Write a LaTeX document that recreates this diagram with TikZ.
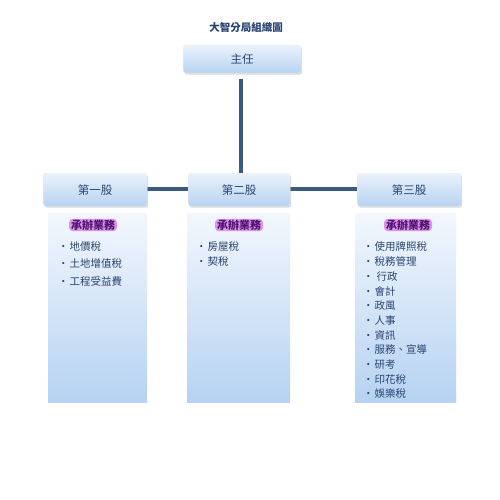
\documentclass[tikz,border=0pt]{standalone}
\usepackage{fontspec}
\newfontfamily\cjk{Noto Sans CJK TC}
\usetikzlibrary{shadows}
\definecolor{txt}{HTML}{2A4572}
\definecolor{lnk}{HTML}{3A5A82}
\definecolor{htop}{HTML}{EAF2FC}
\definecolor{hbot}{HTML}{B7D3F2}
\definecolor{ptop}{HTML}{F2F7FD}
\definecolor{pbot}{HTML}{B6D2F2}
\definecolor{glow}{HTML}{DE94E6}
\definecolor{purp}{HTML}{4E1272}
\tikzset{
  x=1pt,y=-1pt,
  headbox/.style={rounded corners=3pt, top color=htop, bottom color=hbot, draw=hbot!80!black!20!white,
    drop shadow={shadow xshift=1pt,shadow yshift=-1.5pt,opacity=0.3}, inner sep=0pt, font=\cjk\fontsize{11.5}{13}\selectfont, text=txt},
  panel/.style={top color=ptop, bottom color=pbot, draw=none, inner sep=0pt},
  link/.style={draw=lnk, line width=4pt},
  item/.style={anchor=west, font=\cjk\fontsize{10.5}{12}\selectfont, text=txt, inner sep=0pt},
  tasklabel/.style={font=\cjk\bfseries\fontsize{11}{12}\selectfont, text=purp, fill=glow, rounded corners=4pt, inner xsep=2pt, inner ysep=1pt},
}
\begin{document}
\begin{tikzpicture}
\useasboundingbox[fill=white] (0,0) rectangle (500,500);
\node[font=\cjk\bfseries\fontsize{10.5}{12}\selectfont, text=txt] (title) at (246,28) {大智分局組織圖};
% panels
\node[panel, minimum width=99pt, minimum height=189pt, anchor=north west] (p1) at (48,213) {};
\node[panel, minimum width=103pt, minimum height=189pt, anchor=north west] (p2) at (187,213) {};
\node[panel, minimum width=101pt, minimum height=189pt, anchor=north west] (p3) at (355,213) {};
% links (drawn beneath boxes)
\coordinate (top) at (241,79);
\coordinate (jn) at (241,189);
\draw[link] (top) -- (241,180);
\draw[link] (130,189) -- (370,189);
% heads
\node[headbox, minimum width=118pt, minimum height=28pt, anchor=north west] (h0) at (183,45) {主任};
\node[headbox, minimum width=104pt, minimum height=33pt, anchor=north west] (h1) at (43,173) {第一股};
\node[headbox, minimum width=102pt, minimum height=33pt, anchor=north west] (h2) at (188,173) {第二股};
\node[headbox, minimum width=104pt, minimum height=33pt, anchor=north west] (h3) at (357,173) {第三股};
% labels
\node[tasklabel] (l1) at (93,225) {承辦業務};
\node[tasklabel] (l2) at (239,225) {承辦業務};
\node[tasklabel] (l3) at (408,225) {承辦業務};
% items
\node[item] (a1) at (58,247) {·\kern1pt 地價稅};
\node[item] (a2) at (58,264) {·\kern1pt 土地增值稅};
\node[item] (a3) at (58,281) {·\kern1pt 工程受益費};
\node[item] (b1) at (196,247) {·\kern1pt 房屋稅};
\node[item] (b2) at (196,262) {·\kern1pt 契稅};
\foreach \t [count=\i] in {使用牌照稅,稅務管理,\kern2pt 行政,會計,政風,人事,資訊,服務、宣導,研考,印花稅,娛樂稅}{
  \node[item] (c\i) at (363,{247+14.7*(\i-1)}) {·\kern1pt \t};
}
\end{tikzpicture}
\end{document}
